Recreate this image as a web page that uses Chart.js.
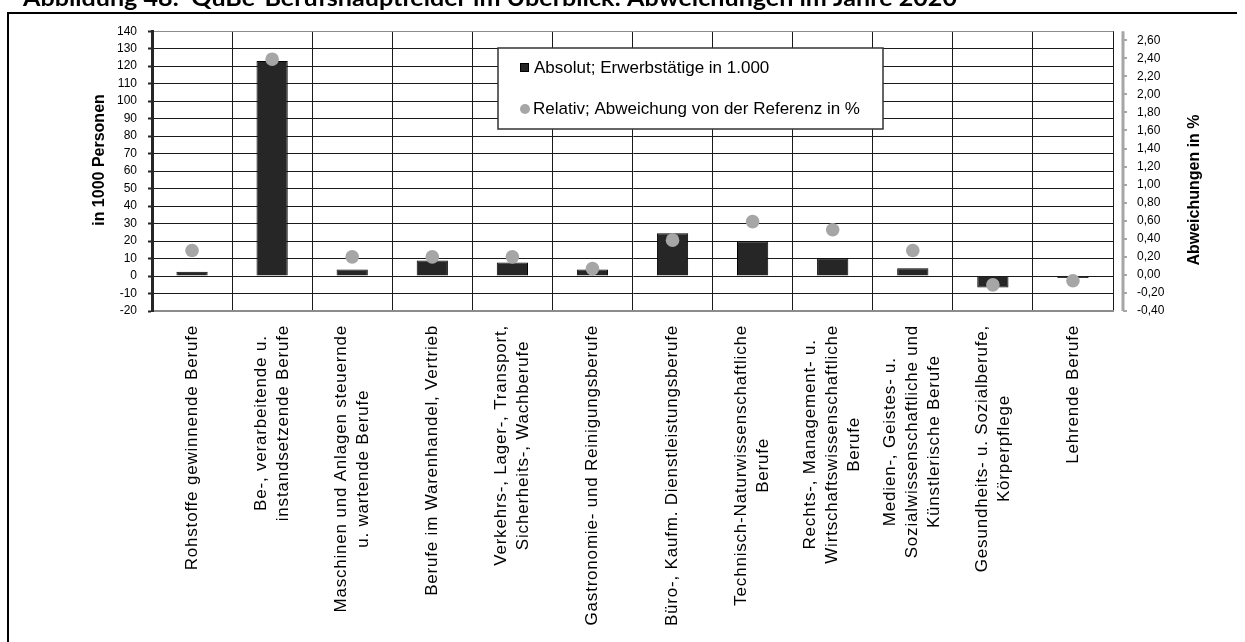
<!DOCTYPE html>
<html>
<head>
<meta charset="utf-8">
<title>QuBe-Berufshauptfelder im Überblick</title>
<script src="https://cdn.jsdelivr.net/npm/chart.js@4.4.1/dist/chart.umd.min.js"></script>
<style>
  html, body { margin: 0; padding: 0; background: #fff; overflow: hidden; }
  canvas { display: block; }
</style>
</head>
<body>
<canvas id="chart" width="1245" height="642"></canvas>
<script>
// Berufshauptfelder (one entry per category, split into label lines)
const categories = [
  ['Rohstoffe gewinnende Berufe'],
  ['Be-, verarbeitende u.', 'instandsetzende Berufe'],
  ['Maschinen und Anlagen steuernde', 'u. wartende Berufe'],
  ['Berufe im Warenhandel, Vertrieb'],
  ['Verkehrs-, Lager-, Transport,', 'Sicherheits-, Wachberufe'],
  ['Gastronomie- und Reinigungsberufe'],
  ['Büro-, Kaufm. Dienstleistungsberufe'],
  ['Technisch-Naturwissenschaftliche', 'Berufe'],
  ['Rechts-, Management- u.', 'Wirtschaftswissenschaftliche', 'Berufe'],
  ['Medien-, Geistes- u.', 'Sozialwissenschaftliche und', 'Künstlerische Berufe'],
  ['Gesundheits- u. Sozialberufe,', 'Körperpflege'],
  ['Lehrende Berufe']
];

// Absolute Abweichung: Erwerbstätige in 1.000
const absolutValues = [2.4, 123, 3.7, 8.9, 7.8, 3.7, 24.5, 19.9, 10.2, 4.5, -6.5, -1.2];
// Relative Abweichung von der Referenz in %
const relativValues = [0.27, 2.39, 0.20, 0.20, 0.20, 0.07, 0.385, 0.59, 0.50, 0.27, -0.11, -0.065];

// Axis ranges and tick steps
const leftAxisRange = [-20, 140];
const leftAxisStep = 10;
const rightAxisRange = [-0.4, 2.7];
const rightAxisStep = 0.2;

const seriesNames = ['Absolut; Erwerbstätige in 1.000', 'Relativ; Abweichung von der Referenz in %'];
const axisTitles = ['in 1000 Personen', 'Abweichungen in %'];
const heading = 'Abbildung 48:  QuBe-Berufshauptfelder im Überblick: Abweichungen im Jahre 2020';

const BAR_COLOR = '#262626';
const DOT_COLOR = '#a6a6a6';
const FONT = '"Liberation Sans", Arial, sans-serif';

Chart.defaults.font.family = FONT;
Chart.defaults.color = '#000';

// Frame, heading, category labels, axis titles, secondary axis line and legend
const decorations = {
  id: 'decorations',
  afterDraw(chart) {
    const ctx = chart.ctx;
    const { left, right, top, bottom } = chart.chartArea;
    const xs = chart.scales.x;
    const y1 = chart.scales.y1;
    ctx.save();

    // outer frame
    ctx.strokeStyle = '#000';
    ctx.lineWidth = 2;
    ctx.beginPath();
    ctx.moveTo(8, 642);
    ctx.lineTo(8, 13);
    ctx.lineTo(1237, 13);
    ctx.stroke();

    // heading (partly above the page edge)
    ctx.font = 'bold 22px Lato, ' + FONT;
    ctx.fillStyle = '#000';
    ctx.textAlign = 'left';
    ctx.textBaseline = 'alphabetic';
    const hw = ctx.measureText(heading).width;
    ctx.save();
    ctx.translate(23, 6);
    ctx.scale(934 / hw, 1);
    ctx.fillText(heading, 0, 0);
    ctx.restore();

    // secondary axis line with tick marks
    const ax = right + 10;
    ctx.strokeStyle = '#a6a6a6';
    ctx.lineWidth = 3;
    ctx.beginPath();
    ctx.moveTo(ax, top);
    ctx.lineTo(ax, bottom);
    ctx.stroke();
    ctx.lineWidth = 2;
    y1.ticks.forEach(t => {
      const py = Math.round(y1.getPixelForValue(t.value));
      ctx.beginPath();
      ctx.moveTo(ax, py);
      ctx.lineTo(ax + 4, py);
      ctx.stroke();
    });

    // rotated category labels, lines centred on each other
    ctx.font = '17px ' + FONT;
    ctx.letterSpacing = '0.8px';
    ctx.fillStyle = '#000';
    ctx.textAlign = 'center';
    ctx.textBaseline = 'middle';
    const lh = 22;
    categories.forEach((lines, i) => {
      const cx = xs.getPixelForValue(i);
      const w = Math.max(...lines.map(s => ctx.measureText(s).width));
      ctx.save();
      ctx.translate(cx, bottom + 14 + w / 2);
      ctx.rotate(-Math.PI / 2);
      lines.forEach((s, k) => ctx.fillText(s, 0, (k - (lines.length - 1) / 2) * lh));
      ctx.restore();
    });
    ctx.letterSpacing = '0px';

    // axis titles
    ctx.font = 'bold 16px ' + FONT;
    ctx.save();
    ctx.translate(100, 160);
    ctx.rotate(-Math.PI / 2);
    ctx.fillText(axisTitles[0], 0, 0);
    ctx.restore();
    ctx.save();
    ctx.translate(1195, 190);
    ctx.rotate(-Math.PI / 2);
    ctx.fillText(axisTitles[1], 0, 0);
    ctx.restore();

    // legend box
    const lx = 498, ly = 48, lw = 385, lhgt = 81;
    ctx.fillStyle = '#fff';
    ctx.fillRect(lx, ly, lw, lhgt);
    ctx.strokeStyle = '#333';
    ctx.lineWidth = 1.5;
    ctx.strokeRect(lx, ly, lw, lhgt);

    const ds = chart.data.datasets;
    ctx.fillStyle = ds[0].backgroundColor;
    ctx.fillRect(520, 63, 9, 9);
    ctx.strokeStyle = '#000';
    ctx.lineWidth = 1;
    ctx.strokeRect(520.5, 63.5, 8, 8);
    ctx.fillStyle = ds[1].pointBackgroundColor;
    ctx.beginPath();
    ctx.arc(525, 109, 5, 0, Math.PI * 2);
    ctx.fill();

    ctx.font = '17px ' + FONT;
    ctx.fillStyle = '#000';
    ctx.textAlign = 'left';
    ctx.textBaseline = 'middle';
    ctx.fillText(ds[0].label, 534, 68);
    ctx.fillText(ds[1].label, 533, 109);

    ctx.restore();
  }
};

new Chart(document.getElementById('chart'), {
  data: {
    labels: categories.map(c => c.join(' ')),
    datasets: [
      {
        type: 'bar',
        label: seriesNames[0],
        data: absolutValues,
        yAxisID: 'y',
        backgroundColor: BAR_COLOR,
        borderColor: '#000',
        borderWidth: 1,
        categoryPercentage: 1,
        barPercentage: 0.39,
        order: 1
      },
      {
        type: 'line',
        label: seriesNames[1],
        data: relativValues,
        yAxisID: 'y1',
        showLine: false,
        pointRadius: 6.8,
        pointBackgroundColor: DOT_COLOR,
        pointBorderColor: DOT_COLOR,
        pointBorderWidth: 0,
        order: 0
      }
    ]
  },
  options: {
    responsive: false,
    animation: false,
    devicePixelRatio: 1,
    layout: { padding: { top: 24, left: 0, right: 0, bottom: 0 } },
    plugins: {
      legend: { display: false },
      tooltip: { enabled: false },
      title: { display: false }
    },
    scales: {
      x: {
        type: 'category',
        offset: true,
        grid: { offset: true, color: '#1a1a1a', lineWidth: 1, drawTicks: false },
        border: { color: '#8c8c8c', width: 2 },
        ticks: { display: false },
        afterFit(s) { s.height = 331; }
      },
      y: {
        position: 'left',
        min: leftAxisRange[0],
        max: leftAxisRange[1],
        ticks: { stepSize: leftAxisStep, padding: 11, font: { size: 12 }, color: '#000', includeBounds: false },
        grid: {
          color: c => (c.tick && (c.tick.value === leftAxisRange[1] || c.tick.value === leftAxisRange[0])) ? '#8c8c8c' : '#1a1a1a',
          lineWidth: 1,
          tickLength: 4,
          tickColor: '#262626',
          tickWidth: 2
        },
        border: { color: '#262626', width: 3 },
        afterFit(s) { s.width = 152; }
      },
      y1: {
        position: 'right',
        min: rightAxisRange[0],
        max: rightAxisRange[1],
        ticks: {
          stepSize: rightAxisStep,
          includeBounds: false,
          padding: 24,
          font: { size: 12 },
          color: '#000',
          callback: v => v.toFixed(2).replace('.', ',')
        },
        grid: { drawOnChartArea: false, drawTicks: false },
        border: { display: false },
        afterFit(s) { s.width = 132; }
      }
    }
  },
  plugins: [decorations]
});
</script>
</body>
</html>
